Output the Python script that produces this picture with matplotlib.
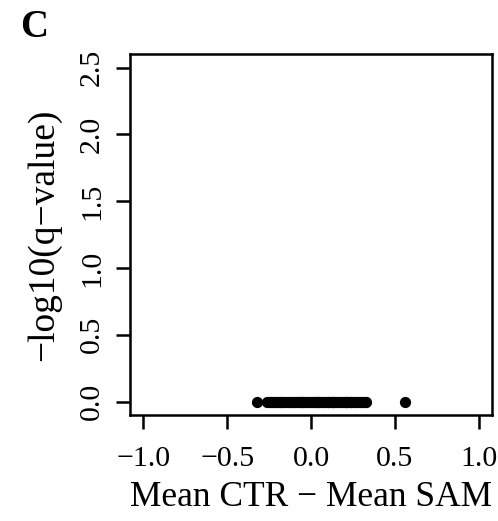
import numpy as np
import matplotlib.pyplot as plt

plt.rcParams['font.family'] = ['Liberation Serif', 'DejaVu Serif']

# mean difference (CTR - SAM) and -log10(q-value)
mean_diff = [-0.32, -0.26, -0.25, -0.24, -0.23, -0.22, -0.21, -0.20, -0.19, -0.18,
             -0.17, -0.16, -0.15, -0.14, -0.13, -0.12, -0.11, -0.10, -0.09, -0.08,
             -0.07, -0.06, -0.05, -0.04, -0.03, -0.02, -0.01, 0.00, 0.01, 0.02,
             0.03, 0.04, 0.05, 0.06, 0.07, 0.08, 0.09, 0.10, 0.11, 0.12,
             0.13, 0.14, 0.15, 0.16, 0.17, 0.18, 0.19, 0.20, 0.21, 0.22,
             0.23, 0.24, 0.25, 0.26, 0.27, 0.28, 0.29, 0.30, 0.31, 0.32,
             0.33, -0.185, -0.055, 0.035, 0.125, 0.215, 0.56]
neg_log_q = [0.0] * len(mean_diff)

xticks = [-1.0, -0.5, 0.0, 0.5, 1.0]
yticks = [0.0, 0.5, 1.0, 1.5, 2.0, 2.5]

fig = plt.figure(figsize=(4.98, 5.21), dpi=100)
ax = fig.add_axes([0.261, 0.2035, 0.727, 0.6925])
ax.scatter(mean_diff, neg_log_q, s=50, c='black', zorder=3, clip_on=False)

ax.set_xlim(-1.08, 1.08)
ax.set_ylim(-0.1, 2.6)
ax.set_xticks(xticks)
ax.set_yticks(yticks)
ax.set_xticklabels(['\u22121.0', '\u22120.5', '0.0', '0.5', '1.0'])
ax.set_yticklabels(['0.0', '0.5', '1.0', '1.5', '2.0', '2.5'], rotation=90, va='center')
ax.tick_params(direction='out', length=10, width=1.8, labelsize=21.5)
ax.tick_params(axis='x', pad=12)
ax.tick_params(axis='y', pad=8)
for sp in ax.spines.values():
    sp.set_linewidth(1.8)

ax.set_xlabel('Mean CTR \u2212 Mean SAM', fontsize=25.5, labelpad=7)
ax.set_ylabel('\u2212log10(q\u2212value)', fontsize=27, labelpad=13)
fig.text(0.04, 0.948, 'C', fontsize=28, fontweight='bold', va='center')

fig.savefig('out.png', dpi=100)
